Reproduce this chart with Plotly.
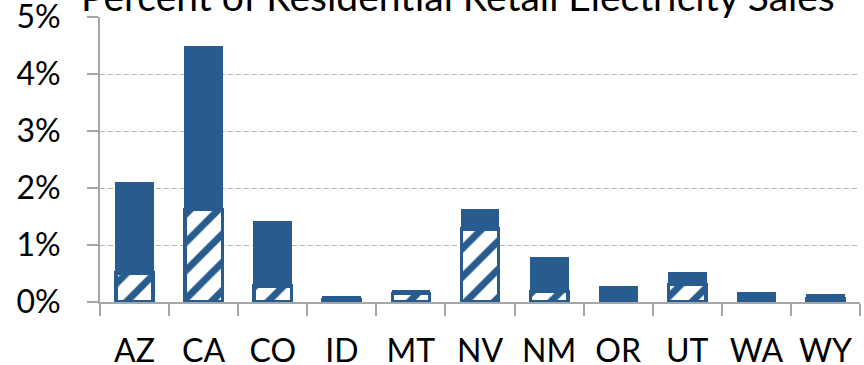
import plotly.graph_objects as go

states = ["AZ", "CA", "CO", "ID", "MT", "NV", "NM", "OR", "UT", "WA", "WY"]
hatched_pct = [0.51, 1.62, 0.28, 0.04, 0.15, 1.28, 0.18, 0.0, 0.31, 0.0, 0.05]
total_pct = [2.10, 4.47, 1.41, 0.10, 0.19, 1.61, 0.77, 0.27, 0.52, 0.17, 0.12]
solid_pct = [round(t - h, 3) for t, h in zip(total_pct, hatched_pct)]
y_ticks = [0, 1, 2, 3, 4, 5]

BLUE = "#295c8e"
GRAY = "#a6a6a6"
FONT = "Lato"

fig = go.Figure()
fig.add_trace(go.Bar(
    x=states, y=hatched_pct,
    marker=dict(color="white", line=dict(color=BLUE, width=3.5),
                pattern=dict(shape="/", fgcolor=BLUE, bgcolor="white",
                             fgopacity=1, fillmode="replace",
                             size=20, solidity=0.35)),
    hoverinfo="skip", showlegend=False,
))
fig.add_trace(go.Bar(
    x=states, y=solid_pct,
    marker=dict(color=BLUE, line=dict(color=BLUE, width=1.5)),
    hoverinfo="skip", showlegend=False,
))

fig.update_layout(
    barmode="stack",
    bargap=0.46,
    width=864, height=365,
    margin=dict(l=100, r=4, t=17, b=63, autoexpand=False),
    paper_bgcolor="white", plot_bgcolor="white",
    font=dict(family=FONT, size=32, color="black"),
    showlegend=False,
    annotations=[dict(
        text="Percent of Residential Retail Electricity Sales",
        xref="paper", yref="paper", x=0.471, y=0.985, xanchor="center",
        yanchor="bottom", showarrow=False,
        font=dict(family=FONT, size=39, color="black"),
    )],
)
fig.update_xaxes(
    type="category", automargin=False,
    showline=True, linecolor=GRAY, linewidth=2,
    ticks="outside", tickson="boundaries", ticklen=12, tickwidth=2, tickcolor=GRAY,
    ticklabelstandoff=20,
    showgrid=False, zeroline=False,
    tickfont=dict(family=FONT, size=32, color="black"),
)
fig.update_yaxes(
    range=[0, 5.0001], automargin=False,
    tickvals=y_ticks, ticktext=[f"{v}%" for v in y_ticks],
    showline=True, linecolor=GRAY, linewidth=2,
    ticks="outside", ticklen=11, tickwidth=2, tickcolor=GRAY,
    ticklabelstandoff=20, ticklabeloverflow="allow",
    showgrid=True, gridcolor="#b3b3b3", gridwidth=1, griddash="5px,3px",
    zeroline=False,
    tickfont=dict(family=FONT, size=32, color="black"),
)

fig.write_html("out.html")
